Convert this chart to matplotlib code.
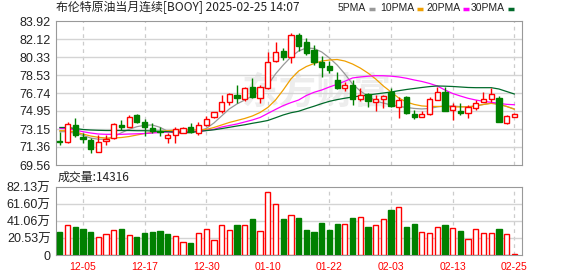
import numpy as np
import matplotlib.pyplot as plt

plt.rcParams['font.family'] = ['Liberation Sans', 'Noto Sans CJK SC']

# daily candles (price), volume in 万
opens = [71.95, 71.88, 73.55, 72.39, 72.06, 70.89, 71.99, 72.23, 73.55, 73.38,
         74.55, 73.82, 73.22, 72.98, 72.22, 72.55, 72.80, 73.32, 72.80, 73.55,
         74.32, 74.98, 75.88, 76.54, 76.14, 77.37, 76.21, 77.27, 79.93, 80.93,
         80.36, 82.52, 81.86, 81.03, 79.86, 79.43, 78.04, 77.21, 77.50, 76.10,
         76.61, 75.81, 76.11, 76.87, 75.37, 76.31, 74.65, 74.32, 74.65, 76.04,
         76.87, 75.04, 74.95, 74.72, 75.21, 75.88, 76.11, 76.27, 73.78, 74.32]
closes = [71.85, 73.65, 72.55, 72.13, 71.13, 71.83, 72.13, 73.65, 73.38, 74.38,
          73.88, 73.32, 72.98, 72.85, 72.55, 73.12, 73.25, 72.88, 73.50, 74.12,
          74.82, 75.88, 76.64, 76.27, 77.27, 76.37, 77.31, 79.80, 80.86, 80.36,
          82.52, 81.43, 80.70, 79.86, 79.36, 79.03, 77.21, 77.54, 76.10, 76.50,
          75.94, 76.14, 76.47, 75.45, 76.04, 74.72, 74.32, 74.65, 76.11, 76.87,
          74.98, 75.45, 74.72, 75.38, 75.71, 76.11, 76.61, 73.88, 74.45, 74.65]
highs = [72.88, 73.88, 74.25, 72.75, 72.23, 72.55, 72.55, 73.78, 74.05, 74.55,
         74.65, 74.12, 73.72, 73.38, 72.72, 73.38, 73.38, 73.72, 73.88, 74.45,
         74.88, 76.55, 76.77, 77.54, 77.37, 78.21, 77.54, 80.86, 81.86, 81.26,
         82.75, 82.69, 82.20, 81.53, 80.40, 79.96, 78.87, 77.87, 78.00, 77.21,
         76.71, 76.54, 76.54, 77.20, 76.37, 76.40, 75.00, 74.95, 76.30, 77.30,
         77.30, 75.70, 75.70, 75.55, 76.00, 76.87, 77.20, 76.40, 74.55, 74.70]
lows = [71.56, 71.73, 72.35, 71.76, 70.79, 70.85, 71.56, 72.13, 73.05, 73.32,
        73.78, 72.45, 72.72, 72.45, 71.72, 71.72, 72.72, 72.72, 72.55, 73.45,
        74.22, 74.78, 75.55, 75.71, 75.94, 76.21, 75.70, 77.14, 79.86, 80.03,
        79.70, 80.90, 80.53, 79.53, 78.30, 78.77, 77.11, 76.97, 75.50, 75.97,
        75.37, 74.98, 75.20, 75.30, 74.22, 74.65, 74.10, 74.30, 74.55, 76.00,
        74.98, 74.05, 74.55, 74.20, 75.00, 75.80, 75.80, 73.80, 73.65, 74.30]
volumes = [28.2, 35.8, 33.8, 31.0, 28.2, 21.4, 25.0, 29.8, 31.0, 23.8,
           21.7, 26.6, 27.8, 29.0, 25.4, 22.5, 15.7, 14.5, 26.6, 31.0,
           17.7, 35.8, 29.8, 36.2, 35.8, 43.5, 29.0, 76.1, 61.6, 43.5,
           48.3, 44.7, 30.2, 27.8, 38.7, 30.2, 37.4, 37.4, 44.7, 45.5,
           33.8, 35.8, 43.1, 54.4, 57.6, 33.8, 37.4, 27.8, 26.2, 33.4,
           35.8, 32.2, 29.0, 18.9, 31.0, 26.2, 26.2, 31.0, 25.0, 1.43]

# moving averages
ma5 = [72.88, 72.88, 72.72, 72.52, 72.25, 72.13, 72.13, 72.39, 72.78, 73.12,
       73.38, 73.52, 73.55, 73.32, 72.92, 72.72, 72.72, 72.78, 72.95, 73.20,
       73.75, 74.45, 75.15, 75.65, 76.04, 76.44, 76.94, 77.54, 78.64, 79.53,
       80.33, 80.93, 81.23, 81.18, 80.83, 80.23, 79.53, 78.64, 77.64, 76.94,
       76.44, 75.94, 75.74, 75.55, 75.40, 75.30, 75.20, 75.15, 75.20, 75.35,
       75.45, 75.45, 75.38, 75.38, 75.45, 75.60, 75.74, 75.65, 75.40, 75.15]
ma10 = [72.98, 72.98, 72.85, 72.65, 72.45, 72.32, 72.25, 72.25, 72.30, 72.40,
        72.55, 72.70, 72.80, 72.90, 72.98, 73.03, 73.05, 73.05, 73.05, 73.10,
        73.30, 73.55, 73.80, 74.00, 74.20, 74.45, 74.80, 75.30, 76.04, 77.04,
        78.14, 78.93, 79.38, 79.68, 79.93, 80.03, 80.08, 79.93, 79.63, 79.23,
        78.73, 78.14, 77.44, 76.84, 76.24, 75.84, 75.60, 75.45, 75.40, 75.40,
        75.40, 75.35, 75.35, 75.35, 75.45, 75.60, 75.70, 75.60, 75.40, 75.12]
ma20 = [73.22, 73.20, 73.05, 72.88, 72.75, 72.65, 72.62, 72.62, 72.62, 72.65,
        72.67, 72.70, 72.75, 72.80, 72.85, 72.88, 72.88, 72.90, 72.93, 73.00,
        73.12, 73.35, 73.50, 73.65, 73.85, 74.05, 74.30, 74.70, 75.10, 75.48,
        75.78, 76.04, 76.49, 76.81, 77.04, 77.34, 77.61, 77.91, 78.24, 78.34,
        78.41, 78.47, 78.46, 78.42, 78.34, 78.21, 78.04, 77.89, 77.69, 77.44,
        77.04, 76.69, 76.44, 76.21, 76.04, 75.91, 75.81, 75.71, 75.61, 75.57]
ma30 = [73.30, 73.30, 73.20, 73.10, 73.05, 73.02, 73.00, 73.00, 73.00, 73.00,
        72.98, 72.98, 72.95, 72.92, 72.88, 72.85, 72.82, 72.82, 72.90, 72.99,
        73.07, 73.19, 73.32, 73.45, 73.57, 73.72, 73.85, 74.00, 74.27, 74.55,
        74.77, 74.92, 75.18, 75.42, 75.68, 75.91, 76.08, 76.22, 76.34, 76.44,
        76.54, 76.64, 76.74, 76.84, 76.97, 77.09, 77.19, 77.29, 77.38, 77.44,
        77.42, 77.39, 77.34, 77.29, 77.27, 77.27, 77.27, 77.14, 76.89, 76.64]

date_labels = ['12-05', '12-17', '12-30', '01-10', '01-22', '02-03', '02-13', '02-25']
price_ticks = [69.56, 71.36, 73.15, 74.95, 76.74, 78.53, 80.33, 82.12, 83.92]
vol_ticks = [0, 20.53, 41.06, 61.60, 82.13]
vol_tick_labels = ['0', '20.53万', '41.06万', '61.60万', '82.13万']

UP = '#ff0000'
DOWN = '#008000'
GRID = '#d4d4d4'
FRAME = '#999999'

n = len(closes)
x = np.arange(n)
o = np.array(opens)
c = np.array(closes)
up = c >= o
prev = np.concatenate([[o[0]], c[:-1]])
vol_up = c >= prev
tick_pos = np.arange(3, n, 8)

fig = plt.figure(figsize=(5.78, 2.76), dpi=100)
ax = fig.add_axes([56 / 578, 111 / 276, 466 / 578, 144 / 276])
axv = fig.add_axes([56 / 578, 21 / 276, 466 / 578, 68 / 276])

for a in (ax, axv):
    for s in a.spines.values():
        s.set_color(FRAME)
    a.tick_params(length=0, labelsize=9, colors='#222222', pad=4)
    for t in tick_pos:
        a.axvline(t, color='#cccccc', lw=0.9, ls=(0, (3, 3)), zorder=0)
    a.set_xlim(-0.5, n)

# watermark
ax.text(0.56, 0.5, '东方财富', transform=ax.transAxes, fontsize=27, fontweight='bold',
        color='#ededed', ha='center', va='center', family='Noto Sans CJK SC', zorder=0)

# price panel
ax.set_ylim(price_ticks[0], price_ticks[-1])
ax.set_yticks(price_ticks)
ax.set_yticklabels(['%.2f' % v for v in price_ticks])
for v in price_ticks[1:-1]:
    ax.axhline(v, color=GRID, lw=1, zorder=0)
ax.set_xticks([])

ax.plot(x, ma5, color='#999999', lw=0.9, zorder=2)
ax.plot(x, ma10, color='#f0a000', lw=0.9, zorder=2)
ax.plot(x, ma20, color='#ff00ff', lw=0.9, zorder=2)
ax.plot(x, ma30, color='#006a2a', lw=0.9, zorder=2)

w = 0.68
for i in range(n):
    col = UP if up[i] else DOWN
    ax.vlines(x[i], lows[i], highs[i], color=col, lw=1, zorder=3)
    body = max(abs(c[i] - o[i]), 0.04)
    ax.bar(x[i], body, w, bottom=min(o[i], c[i]), color='white' if up[i] else col,
           edgecolor=col, lw=1, zorder=4)

# volume panel
axv.set_ylim(0, vol_ticks[-1])
axv.set_yticks(vol_ticks)
axv.set_yticklabels(vol_tick_labels)
for v in vol_ticks[1:-1]:
    axv.axhline(v, color=GRID, lw=1, zorder=0)
for i in range(n):
    col = UP if vol_up[i] else DOWN
    axv.bar(x[i], volumes[i], w, color='white' if vol_up[i] else col,
            edgecolor=col, lw=1, zorder=3)
axv.set_xticks(tick_pos)
axv.set_xticklabels(date_labels, fontsize=7.5, color=UP)
axv.tick_params(axis='x', pad=5)

# header texts
fig.text(56 / 578, 1 - 8 / 276, '布伦特原油当月连续[BOOY] 2025-02-25 14:07', fontsize=8.6,
         family=['Noto Sans CJK SC'], color='#222222', va='center')
fig.text(58 / 578, 1 - 177 / 276, '成交量:14316', fontsize=8.6,
         family=['Noto Sans CJK SC'], color='#222222', va='center')

legend = [('5PMA', 338, '#999999'), ('10PMA', 380, '#f0a000'),
          ('20PMA', 426, '#ff00ff'), ('30PMA', 471, '#006a2a')]
for name, px, col in legend:
    t = fig.text(px / 578, 1 - 8 / 276, name, fontsize=7.5, color='#222222', va='center')
    fig.canvas.draw()
    bb = t.get_window_extent()
    x0 = bb.x1 + 3
    fig.add_artist(plt.Line2D([x0 / 578, (x0 + 6) / 578], [1 - 8.5 / 276] * 2,
                              color=col, lw=2.5, solid_capstyle='butt'))

fig.savefig('out.png', dpi=100)
